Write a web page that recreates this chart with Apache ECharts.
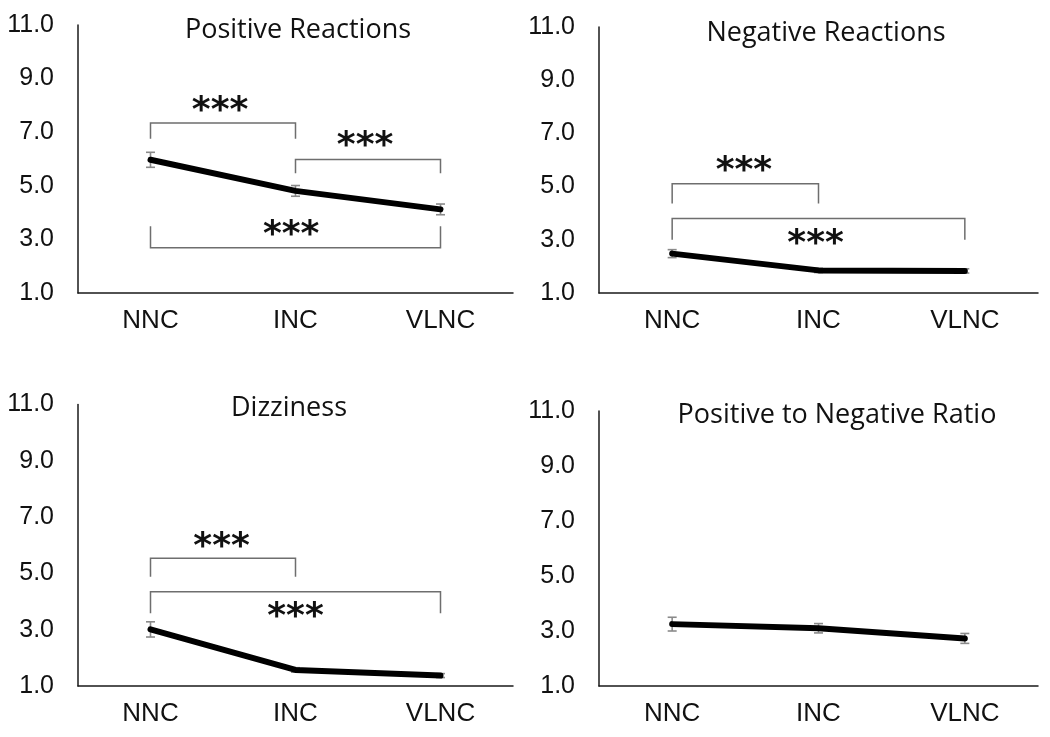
<!DOCTYPE html>
<html><head><meta charset="utf-8">
<script src="https://cdn.jsdelivr.net/npm/echarts@6/dist/echarts.min.js"></script>
<style>html,body{margin:0;padding:0;background:#fff}#c{width:1050px;height:737px}</style>
</head><body><div id="c"></div>
<script>
// ---- data ----
const categories = ['NNC', 'INC', 'VLNC'];
const yTickLabels = ['1.0', '3.0', '5.0', '7.0', '9.0', '11.0'];
const titles = ['Positive Reactions', 'Negative Reactions', 'Dizziness', 'Positive to Negative Ratio'];

const posMean = [5.97, 4.81, 4.12];
const posErr = [0.28, 0.20, 0.20];
const negMean = [2.48, 1.85, 1.83];
const negErr = [0.15, 0.08, 0.08];
const dizMean = [3.01, 1.57, 1.37];
const dizErr = [0.27, 0.08, 0.07];
const ratioMean = [3.25, 3.10, 2.73];
const ratioErr = [0.25, 0.17, 0.18];

// brackets: [fromIndex, toIndex, barValue, legEndValue]
const posBrackets = [[0, 1, 7.34, 6.76], [1, 2, 5.98, 5.47], [0, 2, 2.69, 3.49]];
const negBrackets = [[0, 1, 5.11, 4.36], [0, 2, 3.80, 3.00]];
const dizBrackets = [[0, 1, 5.54, 4.88], [0, 2, 4.35, 3.58]];
const ratioBrackets = [];
// significance labels: [xPosition (category index), yValue]
const posStars = [[0.48, 8.08], [1.48, 6.77], [0.97, 3.45]];
const negStars = [[0.49, 5.88], [0.98, 3.13]];
const dizStars = [[0.49, 6.19], [1.00, 3.70]];
const ratioStars = [];
const starText = '***';

// ---- layout ----
const panels = [
  {mean: posMean, err: posErr, br: posBrackets, st: posStars, grid: {left: 78, width: 435, top: 25, height: 268}, title: [298, 30]},
  {mean: negMean, err: negErr, br: negBrackets, st: negStars, grid: {left: 599, width: 439, top: 27, height: 266}, title: [826, 33]},
  {mean: dizMean, err: dizErr, br: dizBrackets, st: dizStars, grid: {left: 78, width: 435, top: 404.5, height: 281.5}, title: [289, 408]},
  {mean: ratioMean, err: ratioErr, br: ratioBrackets, st: ratioStars, grid: {left: 599, width: 439, top: 411, height: 275}, title: [837, 415]}
];

const grids = [], xAxes = [], yAxes = [], series = [], graphics = [];

function errItem(params, api) {
  const x = api.value(0), m = api.value(1), e = api.value(2);
  const hi = api.coord([x, m + e]), lo = api.coord([x, m - e]);
  const w = 4.5, st = {stroke: '#8a8a8a', lineWidth: 1.6};
  return {type: 'group', children: [
    {type: 'line', shape: {x1: hi[0], y1: hi[1], x2: lo[0], y2: lo[1]}, style: st},
    {type: 'line', shape: {x1: hi[0] - w, y1: hi[1], x2: hi[0] + w, y2: hi[1]}, style: st},
    {type: 'line', shape: {x1: lo[0] - w, y1: lo[1], x2: lo[0] + w, y2: lo[1]}, style: st}
  ]};
}
function bracketItem(params, api) {
  const a = api.value(0), b = api.value(1), bar = api.value(2), leg = api.value(3);
  const p1 = api.coord([a, leg]), p2 = api.coord([a, bar]), p3 = api.coord([b, bar]), p4 = api.coord([b, leg]);
  return {type: 'polyline', shape: {points: [p1, p2, p3, p4]}, style: {stroke: '#6e6e6e', lineWidth: 1.5, fill: null}};
}
function starItem(params, api) {
  const p = api.coord([api.value(0), api.value(1)]);
  return {type: 'text', x: p[0], y: p[1] + 8, style: {text: starText, textAlign: 'center', textVerticalAlign: 'middle', font: 'bold 36px "DejaVu Sans"', fill: '#111'}};
}

panels.forEach((p, i) => {
  grids.push(Object.assign({containLabel: false}, p.grid));
  xAxes.push({
    type: 'value', gridIndex: i, min: -0.5, max: 2.5, interval: 0.5,
    axisLine: {show: true, onZero: false, lineStyle: {color: '#1a1a1a', width: 1.5}},
    axisTick: {show: false}, splitLine: {show: false},
    axisLabel: {
      margin: 15, fontSize: 26, fontFamily: 'Liberation Sans', color: '#111',
      showMinLabel: true, showMaxLabel: true,
      formatter: v => (Number.isInteger(v) && categories[v]) ? categories[v] : ''
    }
  });
  yAxes.push({
    type: 'value', gridIndex: i, min: 1, max: 11, interval: 1,
    axisLine: {show: true, onZero: false, lineStyle: {color: '#1a1a1a', width: 1.5}},
    axisTick: {show: false}, splitLine: {show: false},
    axisLabel: {
      margin: 24, fontSize: 25, fontFamily: 'Liberation Sans', color: '#111',
      formatter: v => (v % 2 === 1) ? yTickLabels[(v - 1) / 2] : ''
    }
  });
  series.push({
    type: 'custom', xAxisIndex: i, yAxisIndex: i, z: 2, silent: true,
    renderItem: errItem, data: p.mean.map((m, k) => [k, m, p.err[k]])
  });
  series.push({
    type: 'line', xAxisIndex: i, yAxisIndex: i, z: 3, silent: true,
    symbol: 'none', lineStyle: {color: '#000', width: 6, cap: 'round', join: 'round'},
    data: p.mean.map((m, k) => [k, m])
  });
  if (p.br.length) series.push({
    type: 'custom', xAxisIndex: i, yAxisIndex: i, z: 2, silent: true,
    renderItem: bracketItem, data: p.br
  });
  if (p.st.length) series.push({
    type: 'custom', xAxisIndex: i, yAxisIndex: i, z: 4, silent: true,
    renderItem: starItem, data: p.st
  });
  graphics.push({type: 'text', x: p.title[0], y: p.title[1], style: {
    text: titles[i], textAlign: 'center', textVerticalAlign: 'middle',
    font: '27px "Open Sans"', fill: '#111'}});
});

const chart = echarts.init(document.getElementById('c'), null, {renderer: 'canvas'});
chart.setOption({
  animation: false,
  backgroundColor: '#fff',
  grid: grids, xAxis: xAxes, yAxis: yAxes, series: series,
  graphic: graphics
});
</script></body></html>
